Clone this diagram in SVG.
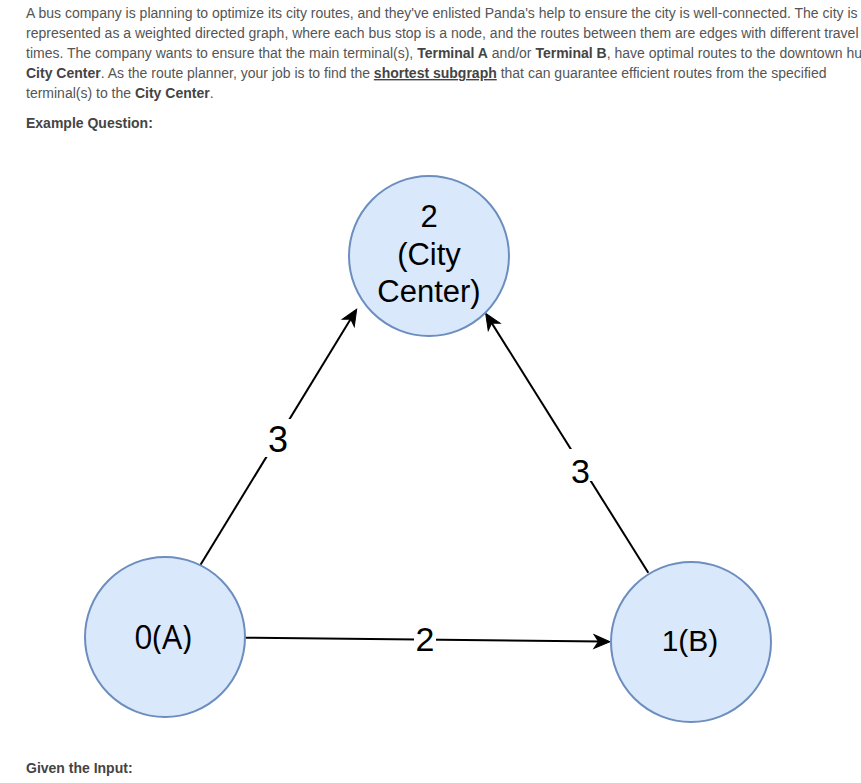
<svg xmlns="http://www.w3.org/2000/svg" width="861" height="783" viewBox="0 0 861 783">
<style>
.p{font-family:"Liberation Sans",Arial,sans-serif;font-size:14px;fill:#555}
.b{font-weight:bold;fill:#444}
.u{text-decoration:underline}
.node{fill:#dae8fc;stroke:#6c8ebf;stroke-width:2}
.nt{font-family:"Liberation Sans",Arial,sans-serif;fill:#000;text-anchor:middle}
.edge{stroke:#000;stroke-width:2;fill:none}
.lbg{fill:#fff}
.lbl{font-family:"Liberation Sans",Arial,sans-serif;fill:#000;text-anchor:middle}
</style>
<defs>
<marker id="arr" markerUnits="userSpaceOnUse" markerWidth="20" markerHeight="20" viewBox="-10 -10 20 20" refX="0" refY="0" orient="auto" overflow="visible">
<path d="M8,0 L-8,-7 L-3.5,0 L-8,7 Z" fill="#000" stroke="#000" stroke-width="1"/>
</marker>
</defs>
<rect width="861" height="783" fill="#fff"/>
<g id="intro">
<text class="p" x="26" y="18">A bus company is planning to optimize its city routes, and they've enlisted Panda's help to ensure the city is well-connected. The city is</text>
<text class="p" x="26" y="38">represented as a weighted directed graph, where each bus stop is a node, and the routes between them are edges with different travel</text>
<text class="p" x="26" y="58">times. The company wants to ensure that the main terminal(s), <tspan class="b">Terminal A</tspan> and/or <tspan class="b">Terminal B</tspan>, have optimal routes to the downtown hu</text>
<text class="p" x="26" y="78"><tspan class="b">City Center</tspan>. As the route planner, your job is to find the <tspan class="b u">shortest subgraph</tspan> that can guarantee efficient routes from the specified</text>
<text class="p" x="26" y="98">terminal(s) to the <tspan class="b">City Center</tspan>.</text>
<text class="p b" x="26" y="128">Example Question:</text>
<text class="p b" x="26" y="773">Given the Input:</text>
</g>
<g id="connectors">
<g id="e-0-1">
<path class="edge" d="M245,637.7 L602,641.6" marker-end="url(#arr)"/>
<rect class="lbg" x="414" y="624" width="22" height="30"/>
<text class="lbl" x="425" y="650.5" font-size="34">2</text>
</g>
<g id="e-0-2">
<path class="edge" d="M199.3,566.7 L352.5,316.1" marker-end="url(#arr)"/>
<rect class="lbg" x="265" y="419" width="26" height="38"/>
<text class="lbl" x="278" y="451.5" font-size="36">3</text>
</g>
<g id="e-1-2">
<path class="edge" d="M648.3,572.7 L489.9,320.1" marker-end="url(#arr)"/>
<rect class="lbg" x="569" y="449" width="23" height="32"/>
<text class="lbl" x="580.5" y="482.5" font-size="34">3</text>
</g>
</g>
<g id="node-0">
<circle class="node" cx="165" cy="637" r="80"/>
<text class="nt" x="163" y="648.5" font-size="32" style="font-family:'Open Sans','Liberation Sans',sans-serif">0(A)</text>
</g>
<g id="node-1">
<circle class="node" cx="691" cy="642" r="80"/>
<text class="nt" x="690" y="650.5" font-size="30">1(B)</text>
</g>
<g id="node-2">
<circle class="node" cx="429" cy="256" r="80"/>
<text class="nt" x="429" y="227" font-size="31">2</text>
<text class="nt" x="429" y="264.5" font-size="31">(City</text>
<text class="nt" x="429" y="302" font-size="31">Center)</text>
</g>
</svg>
